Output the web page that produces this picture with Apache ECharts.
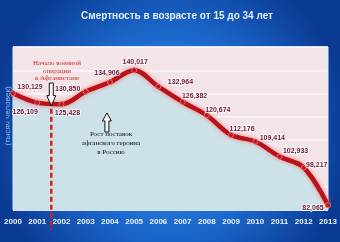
<!DOCTYPE html>
<html><head><meta charset="utf-8">
<script src="https://cdn.jsdelivr.net/npm/echarts@6/dist/echarts.min.js"></script>
<style>html,body{margin:0;padding:0;background:#0a3c98}#c{width:340px;height:242px}</style>
</head><body><div id="c"></div>
<script>
const categories = ['2000','2001','2002','2003','2004','2005','2006','2007','2008','2009','2010','2011','2012','2013'];
const deaths = [130.129,126.109,125.428,130.850,134.906,140.017,132.964,126.382,120.674,112.176,109.414,102.933,98.217,82.065];
const titleText = 'Смертность в возрасте от 15 до 34 лет';
const yAxisName = '(тысяч человек)';
const noteWar = 'Начало военной\nоперации\nв Афганистане';
const noteHeroin = 'Рост поставок\nафганского героина\nв Россию';
const labelOffsets = [[17,-6],[-12,9],[6,9],[-18,-3],[-3,-9],[1,-8],[22,-5],[12,-6],[11,-5],[11,-6],[17,-3],[16,-6],[13,-3],[-15,3]];

const chart = echarts.init(document.getElementById('c'), null, {renderer:'canvas'});
chart.setOption({
  animation:false,
  backgroundColor:{type:'radial',x:0.5,y:0.55,r:0.75,colorStops:[
    {offset:0,color:'#3a98ee'},{offset:0.55,color:'#1b68cc'},{offset:1,color:'#0a3a92'}]},
  grid:{left:13,right:12,top:47,bottom:32,show:true,backgroundColor:'#f2e4e7',borderColor:'#e4ecf3',borderWidth:1},
  xAxis:{type:'category',data:categories,boundaryGap:false,
    axisLine:{show:false},axisTick:{show:false},splitLine:{show:false},
    axisLabel:{color:'#eaf2ff',fontWeight:'bold',fontSize:8,fontFamily:'Liberation Sans, Arial',margin:8}},
  yAxis:{type:'value',min:80,max:150,interval:10,
    axisLine:{show:false},axisTick:{show:false},axisLabel:{show:false},
    splitLine:{lineStyle:{color:'#fdf9fa',width:1.5}}},
  series:[{
    type:'line',smooth:0.35,
    data:deaths.map((v,i)=>({value:v,label:{offset:labelOffsets[i]}})),
    symbol:'circle',symbolSize:5,
    itemStyle:{color:'#c0141c',borderColor:'#e07070',borderWidth:1},
    lineStyle:{color:'#b8121b',width:4.5,shadowBlur:4,shadowColor:'rgba(255,110,110,0.9)'},
    areaStyle:{color:'#cde1e8',opacity:1,origin:'start'},
    label:{show:true,position:'inside',formatter:p=>p.value.toFixed(3).replace('.',','),
      color:'#6e1634',fontSize:7,fontWeight:'bold',fontFamily:'Liberation Sans, Arial',
      textBorderColor:'rgba(255,255,255,0.75)',textBorderWidth:2}
  }]
});

const p1 = chart.convertToPixel({xAxisIndex:0},1);
const p2 = chart.convertToPixel({xAxisIndex:0},2);
const dx = p1 + (p2-p1)*0.58;
const dTop = chart.convertToPixel({yAxisIndex:0},123.5);
const upX = chart.convertToPixel({xAxisIndex:0},4) - 3;

function downArrow(cx, top, bot){
  const h = bot-top, s = top + h*0.55;
  return [[cx-2,top],[cx+2,top],[cx+2,s],[cx+4.5,s],[cx,bot],[cx-4.5,s],[cx-2,s]];
}
function upArrow(cx, top, bot){
  const h = bot-top, s = top + h*0.42;
  return [[cx,top],[cx+4.5,s],[cx+2,s],[cx+2,bot],[cx-2,bot],[cx-2,s],[cx-4.5,s]];
}

chart.setOption({graphic:[
  {type:'text',z:10,style:{text:titleText,x:177,y:16,align:'center',verticalAlign:'middle',
    fill:'#e2edff',font:'bold 10px "Liberation Sans", Arial',shadowBlur:3,shadowColor:'rgba(180,220,255,0.6)'}},
  {type:'text',z:10,rotation:Math.PI/2,x:8,y:116,style:{text:yAxisName,x:0,y:0,align:'center',verticalAlign:'middle',
    fill:'#8cb8ec',font:'8px "Liberation Sans", Arial'}},
  {type:'line',z:20,shape:{x1:dx,y1:dTop,x2:dx,y2:230},style:{stroke:'#e01b1b',lineWidth:2.5,lineDash:[5,3]}},
  {type:'polygon',z:20,shape:{points:downArrow(dx,83,106)},style:{fill:'rgba(255,255,255,0.7)',stroke:'#111',lineWidth:1}},
  {type:'polygon',z:20,shape:{points:upArrow(upX,113,132)},style:{fill:'rgba(255,255,255,0.7)',stroke:'#111',lineWidth:1}},
  {type:'text',z:20,style:{text:noteWar,x:57,y:71,align:'center',verticalAlign:'middle',lineHeight:7.5,
    fill:'#d42a2a',font:'7px "Liberation Serif", serif'}},
  {type:'text',z:20,style:{text:noteHeroin,x:111,y:143,align:'center',verticalAlign:'middle',lineHeight:9,
    fill:'#111',font:'7px "Liberation Serif", serif'}}
]});
</script></body></html>
